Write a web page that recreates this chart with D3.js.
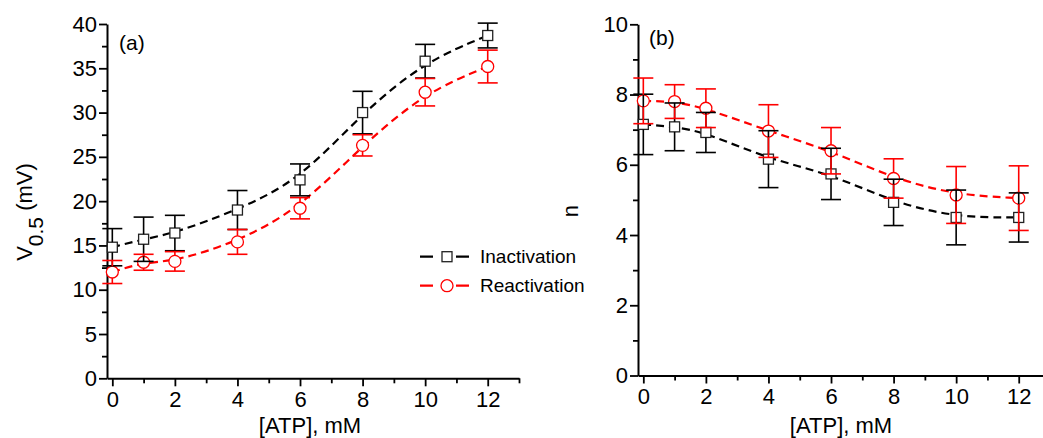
<!DOCTYPE html>
<html>
<head>
<meta charset="utf-8">
<script src="https://cdn.jsdelivr.net/npm/d3@7"></script>
<style>
  body { margin: 0; background: #fff; }
  svg { display: block; font-family: Arial, "Liberation Sans", sans-serif; }
</style>
</head>
<body>
<svg id="chart" width="1043" height="438"></svg>
<script>
// ATP concentrations (mM)
const atp = [0, 1, 2, 4, 6, 8, 10, 12];

// panel (a): V0.5 (mV)
const v05Inact = [14.8, 15.7, 16.4, 19.0, 22.4, 30.0, 35.8, 38.7];
const v05InactErr = [2.1, 2.5, 2.0, 2.2, 1.8, 2.4, 1.9, 1.4];
const v05React = [12.0, 13.1, 13.2, 15.4, 19.2, 26.3, 32.3, 35.2];
const v05ReactErr = [1.3, 0.9, 1.1, 1.4, 1.2, 1.2, 1.55, 1.85];

// panel (b): n
const nInact = [7.15, 7.08, 6.92, 6.16, 5.74, 4.93, 4.5, 4.5];
const nInactErr = [0.86, 0.68, 0.57, 0.81, 0.73, 0.66, 0.78, 0.7];
const nReact = [7.82, 7.8, 7.61, 6.96, 6.4, 5.61, 5.14, 5.05];
const nReactErr = [0.65, 0.48, 0.55, 0.75, 0.66, 0.56, 0.81, 0.92];

// ticks
const xTicks = [0, 2, 4, 6, 8, 10, 12];
const xMinor = [1, 3, 5, 7, 9, 11, 13];
const yTicksA = [0, 5, 10, 15, 20, 25, 30, 35, 40];
const yMinorA = [2.5, 7.5, 12.5, 17.5, 22.5, 27.5, 32.5, 37.5];
const yTicksB = [0, 2, 4, 6, 8, 10];
const yMinorB = [1, 3, 5, 7, 9];

const seriesNames = ["Inactivation", "Reactivation"];

const svg = d3.select("#chart");
const black = "#000", red = "#ff0000";

function drawPanel(opt) {
    const x = d3.scaleLinear().domain([-0.17, 13]).range([opt.left, opt.left + 412]);
    const y = d3.scaleLinear().domain(opt.yDomain).range([opt.bottom, opt.top]);
    const g = svg.append("g");

    // minor ticks
    g.append("g").attr("class", "minor")
        .attr("transform", "translate(0," + opt.bottom + ")")
        .call(d3.axisBottom(x).tickValues(xMinor).tickSize(5).tickFormat(""));
    g.append("g").attr("class", "minor")
        .attr("transform", "translate(" + opt.left + ",0)")
        .call(d3.axisLeft(y).tickValues(opt.yMinor).tickSize(5).tickFormat(""));
    g.selectAll(".minor .domain").remove();

    // major axes
    g.append("g").attr("class", "axis")
        .attr("transform", "translate(0," + opt.bottom + ")")
        .call(d3.axisBottom(x).tickValues(xTicks).tickSize(8).tickSizeOuter(0).tickPadding(5));
    g.append("g").attr("class", "axis")
        .attr("transform", "translate(" + opt.left + ",0)")
        .call(d3.axisLeft(y).tickValues(opt.yTicks).tickSize(8).tickSizeOuter(0).tickPadding(2));

    g.selectAll(".domain").attr("stroke", "#000").attr("stroke-width", 2);
    g.selectAll(".tick line").attr("stroke", "#000").attr("stroke-width", 1.8);
    g.selectAll(".tick text").attr("font-size", 22).attr("fill", "#000")
        .attr("font-family", "Arial, 'Liberation Sans', sans-serif");

    // x title
    g.append("text")
        .attr("x", (opt.left + opt.left + 406) / 2)
        .attr("y", 433)
        .attr("text-anchor", "middle")
        .attr("font-size", 22)
        .text("[ATP], mM");

    // series
    const series = [
        { vals: opt.inact, err: opt.inactErr, color: black, shape: "square" },
        { vals: opt.react, err: opt.reactErr, color: red, shape: "circle" }
    ];

    const line = d3.line()
        .x((d, i) => x(atp[i]))
        .y(d => y(d))
        .curve(d3.curveBasis);

    series.forEach(s => {
        g.append("path")
            .attr("d", line(s.vals))
            .attr("fill", "none")
            .attr("stroke", s.color)
            .attr("stroke-width", 2.2)
            .attr("stroke-dasharray", "8,5");
    });

    series.forEach(s => {
        const half = s.shape === "square" ? 5 : 6;
        const mk = g.append("g");
        s.vals.forEach((v, i) => {
            const cx = x(atp[i]), cy = y(v);
            if (s.shape === "square") {
                mk.append("rect")
                    .attr("x", cx - half).attr("y", cy - half)
                    .attr("width", half * 2).attr("height", half * 2)
                    .attr("fill", "#fff").attr("stroke", "#222").attr("stroke-width", 1.3);
            } else {
                mk.append("circle")
                    .attr("cx", cx).attr("cy", cy).attr("r", half)
                    .attr("fill", "#fff").attr("stroke", red).attr("stroke-width", 1.3);
            }
        });
    });

    // error bars: stems stop at the marker edge, caps on top
    series.forEach(s => {
        const half = s.shape === "square" ? 5 : 6;
        const eg = g.append("g").attr("stroke", s.color).attr("stroke-width", 1.6);
        s.vals.forEach((v, i) => {
            const cx = x(atp[i]);
            const top = y(v + s.err[i]), bot = y(v - s.err[i]), cy = y(v);
            if (top < cy - half) {
                eg.append("line").attr("x1", cx).attr("x2", cx).attr("y1", top).attr("y2", cy - half);
            }
            if (bot > cy + half) {
                eg.append("line").attr("x1", cx).attr("x2", cx).attr("y1", cy + half).attr("y2", bot);
            }
            eg.append("line").attr("x1", cx - 10).attr("x2", cx + 10).attr("y1", top).attr("y2", top);
            eg.append("line").attr("x1", cx - 10).attr("x2", cx + 10).attr("y1", bot).attr("y2", bot);
        });
    });

    g.append("text")
        .attr("x", opt.left + opt.labelDx)
        .attr("y", opt.labelY)
        .attr("font-size", 21)
        .text(opt.label);

    return { x, y, g };
}

drawPanel({
    left: 107, top: 24, bottom: 378.3, yDomain: [0, 40],
    yTicks: yTicksA, yMinor: yMinorA,
    inact: v05Inact, inactErr: v05InactErr, react: v05React, reactErr: v05ReactErr,
    label: "(a)", labelDx: 12, labelY: 50
});

drawPanel({
    left: 638, top: 24.3, bottom: 375.5, yDomain: [0, 10],
    yTicks: yTicksB, yMinor: yMinorB,
    inact: nInact, inactErr: nInactErr, react: nReact, reactErr: nReactErr,
    label: "(b)", labelDx: 11, labelY: 45
});

// y titles
const ya = svg.append("text")
    .attr("transform", "translate(32,212) rotate(-90)")
    .attr("text-anchor", "middle")
    .attr("font-size", 22);
ya.append("tspan").text("V");
ya.append("tspan").attr("font-size", 21).attr("dy", 11).text("0.5");
ya.append("tspan").attr("dy", -11).text(" (mV)");

svg.append("text")
    .attr("transform", "translate(578,211) rotate(-90)")
    .attr("text-anchor", "middle")
    .attr("font-size", 22)
    .text("n");

// legend in panel (a)
const legendY = [256.7, 285.7];
const legend = svg.append("g");
seriesNames.forEach((name, i) => {
    const c = i === 0 ? black : red;
    const ly = legendY[i];
    legend.append("line")
        .attr("x1", 420).attr("x2", 475).attr("y1", ly).attr("y2", ly)
        .attr("stroke", c).attr("stroke-width", 2.2).attr("stroke-dasharray", "13,9,6,8");
    if (i === 0) {
        legend.append("rect").attr("x", 442).attr("y", ly - 5).attr("width", 10).attr("height", 10)
            .attr("fill", "#fff").attr("stroke", "#222").attr("stroke-width", 1.3);
    } else {
        legend.append("circle").attr("cx", 447).attr("cy", ly).attr("r", 6)
            .attr("fill", "#fff").attr("stroke", red).attr("stroke-width", 1.3);
    }
    legend.append("text")
        .attr("x", 480).attr("y", ly).attr("dy", "0.35em")
        .attr("font-size", 19)
        .text(name);
});
</script>
</body>
</html>
